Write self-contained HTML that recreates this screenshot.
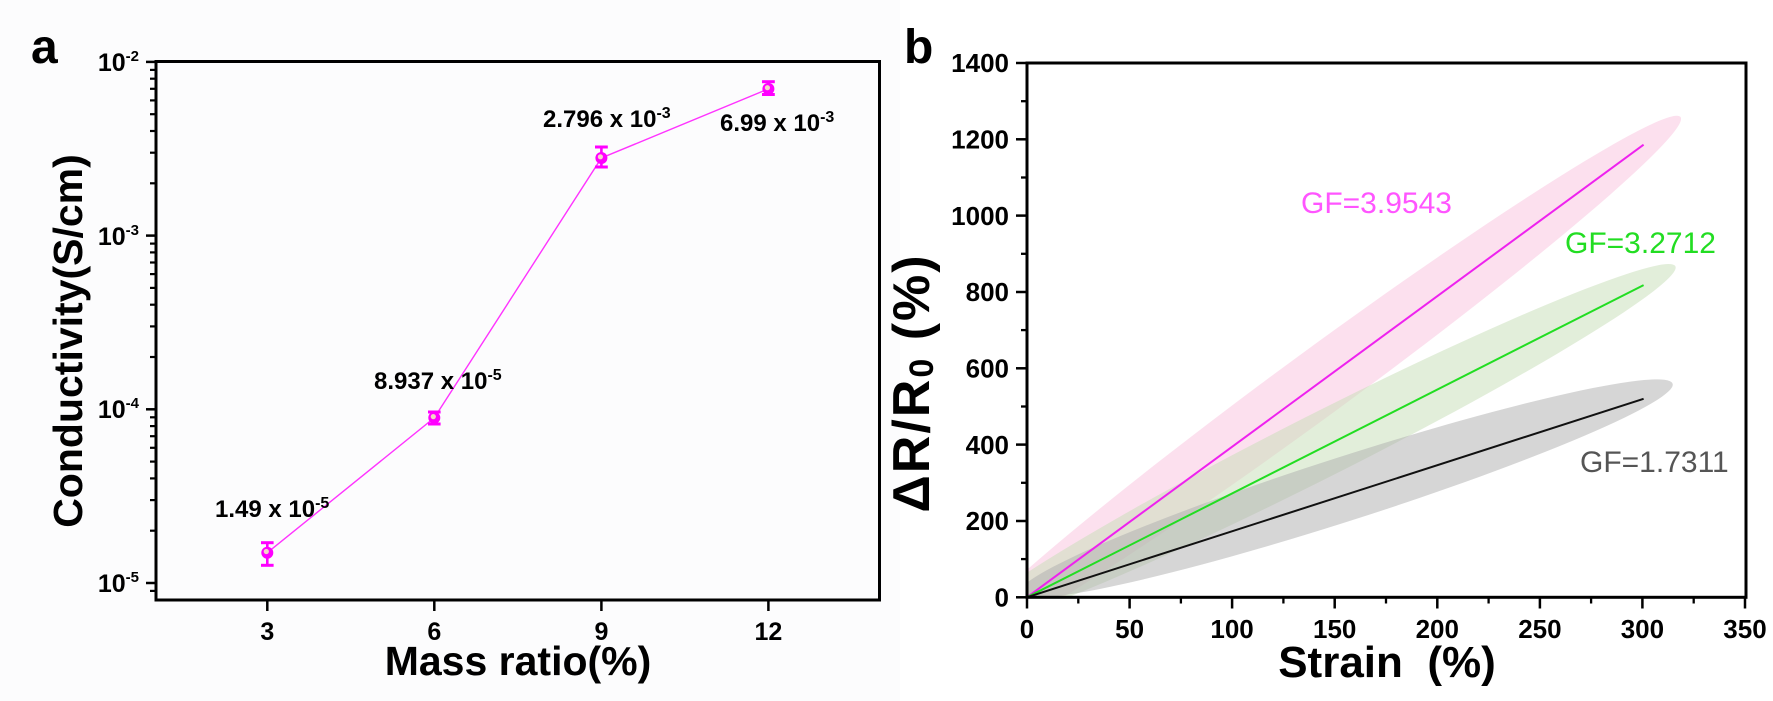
<!DOCTYPE html>
<html>
<head>
<meta charset="utf-8">
<style>
  html,body{margin:0;padding:0;background:#ffffff;width:1773px;height:701px;overflow:hidden;}
  svg{display:block;}
  text{font-family:"Liberation Sans", Arial, sans-serif;}
</style>
</head>
<body>
<svg width="1773" height="701" viewBox="0 0 1773 701" xmlns="http://www.w3.org/2000/svg">
  <rect x="0" y="0" width="1773" height="701" fill="#ffffff"/>
  <rect x="0" y="0" width="900" height="701" fill="#fcfcfd"/>

  <!-- ================= PANEL A ================= -->
  <text x="31" y="63" font-size="48" font-weight="bold" fill="#000">a</text>

  <!-- axes box -->
  <rect x="156" y="61.5" width="723.5" height="538.5" fill="none" stroke="#000" stroke-width="3"/>

  <!-- y major ticks -->
  <g stroke="#000" stroke-width="2.5">
    <line x1="146" y1="61.9" x2="156" y2="61.9"/>
    <line x1="146" y1="235.6" x2="156" y2="235.6"/>
    <line x1="146" y1="409.3" x2="156" y2="409.3"/>
    <line x1="146" y1="583" x2="156" y2="583"/>
  </g>
  <!-- y minor ticks -->
  <g stroke="#000" stroke-width="2.2">
    <line x1="150" y1="590.9" x2="156" y2="590.9"/>
    <line x1="150" y1="530.7" x2="156" y2="530.7"/>
    <line x1="150" y1="500.1" x2="156" y2="500.1"/>
    <line x1="150" y1="478.4" x2="156" y2="478.4"/>
    <line x1="150" y1="461.6" x2="156" y2="461.6"/>
    <line x1="150" y1="447.8" x2="156" y2="447.8"/>
    <line x1="150" y1="436.2" x2="156" y2="436.2"/>
    <line x1="150" y1="426.1" x2="156" y2="426.1"/>
    <line x1="150" y1="417.3" x2="156" y2="417.3"/>
    <line x1="150" y1="357.0" x2="156" y2="357.0"/>
    <line x1="150" y1="326.4" x2="156" y2="326.4"/>
    <line x1="150" y1="304.7" x2="156" y2="304.7"/>
    <line x1="150" y1="287.9" x2="156" y2="287.9"/>
    <line x1="150" y1="274.1" x2="156" y2="274.1"/>
    <line x1="150" y1="262.5" x2="156" y2="262.5"/>
    <line x1="150" y1="252.4" x2="156" y2="252.4"/>
    <line x1="150" y1="243.6" x2="156" y2="243.6"/>
    <line x1="150" y1="183.3" x2="156" y2="183.3"/>
    <line x1="150" y1="152.7" x2="156" y2="152.7"/>
    <line x1="150" y1="131.0" x2="156" y2="131.0"/>
    <line x1="150" y1="114.2" x2="156" y2="114.2"/>
    <line x1="150" y1="100.4" x2="156" y2="100.4"/>
    <line x1="150" y1="88.8" x2="156" y2="88.8"/>
    <line x1="150" y1="78.7" x2="156" y2="78.7"/>
    <line x1="150" y1="69.9" x2="156" y2="69.9"/>
  </g>
  <!-- y tick labels -->
  <g font-size="25" font-weight="bold" fill="#000" text-anchor="end">
    <text x="139" y="71">10<tspan font-size="15" dy="-10">-2</tspan></text>
    <text x="139" y="245">10<tspan font-size="15" dy="-10">-3</tspan></text>
    <text x="139" y="418">10<tspan font-size="15" dy="-10">-4</tspan></text>
    <text x="139" y="592">10<tspan font-size="15" dy="-10">-5</tspan></text>
  </g>

  <!-- x ticks -->
  <g stroke="#000" stroke-width="2.5">
    <line x1="267.3" y1="600" x2="267.3" y2="611"/>
    <line x1="434.3" y1="600" x2="434.3" y2="611"/>
    <line x1="601.4" y1="600" x2="601.4" y2="611"/>
    <line x1="768.4" y1="600" x2="768.4" y2="611"/>
  </g>
  <g font-size="25" font-weight="bold" fill="#000" text-anchor="middle">
    <text x="267.3" y="640">3</text>
    <text x="434.3" y="640">6</text>
    <text x="601.4" y="640">9</text>
    <text x="768.4" y="640">12</text>
  </g>

  <!-- axis titles -->
  <text x="518" y="675" font-size="41" font-weight="bold" fill="#000" text-anchor="middle">Mass ratio(%)</text>
  <text transform="translate(82,341) rotate(-90)" font-size="41" font-weight="bold" fill="#000" text-anchor="middle">Conductivity(S/cm)</text>

  <!-- data line -->
  <polyline points="267.3,552.7 434.3,417.8 601.4,158 768.4,88.9" fill="none" stroke="#ff33ff" stroke-width="1.4"/>

  <!-- error bars -->
  <g stroke="#ff00ff" stroke-width="2.6" fill="none">
    <line x1="267.3" y1="542.7" x2="267.3" y2="565.3"/>
    <line x1="261" y1="542.7" x2="273.6" y2="542.7" stroke-width="3"/>
    <line x1="261" y1="565.3" x2="273.6" y2="565.3" stroke-width="3"/>

    <line x1="434.3" y1="412" x2="434.3" y2="424"/>
    <line x1="428" y1="412" x2="440.6" y2="412" stroke-width="3"/>
    <line x1="428" y1="424" x2="440.6" y2="424" stroke-width="3"/>

    <line x1="601.4" y1="147" x2="601.4" y2="167"/>
    <line x1="595" y1="147" x2="607.8" y2="147" stroke-width="3"/>
    <line x1="595" y1="167" x2="607.8" y2="167" stroke-width="3"/>

    <line x1="768.4" y1="81.7" x2="768.4" y2="94.5"/>
    <line x1="762" y1="81.7" x2="774.8" y2="81.7" stroke-width="3"/>
    <line x1="762" y1="94.5" x2="774.8" y2="94.5" stroke-width="3"/>
  </g>
  <!-- markers -->
  <g>
    <circle cx="267.3" cy="552.7" r="6" fill="#ff00ff"/>
    <circle cx="266.3" cy="551.5" r="2.6" fill="#f3d6c8"/>
    <circle cx="434.3" cy="417.8" r="6" fill="#ff00ff"/>
    <circle cx="433.3" cy="416.6" r="2.6" fill="#f3d6c8"/>
    <circle cx="601.4" cy="158" r="6" fill="#ff00ff"/>
    <circle cx="600.4" cy="156.8" r="2.6" fill="#f3d6c8"/>
    <circle cx="768.4" cy="88.9" r="6" fill="#ff00ff"/>
    <circle cx="767.4" cy="87.7" r="2.6" fill="#f3d6c8"/>
  </g>

  <!-- annotations -->
  <g font-size="24" font-weight="bold" fill="#000">
    <text x="215" y="517">1.49 x 10<tspan font-size="16" dy="-9">-5</tspan></text>
    <text x="374" y="389">8.937 x 10<tspan font-size="16" dy="-9">-5</tspan></text>
    <text x="543" y="127">2.796 x 10<tspan font-size="16" dy="-9">-3</tspan></text>
    <text x="720" y="131">6.99 x 10<tspan font-size="16" dy="-9">-3</tspan></text>
  </g>

  <!-- ================= PANEL B ================= -->
  <text x="904" y="63" font-size="48" font-weight="bold" fill="#000">b</text>

  <defs>
    <clipPath id="plotb">
      <rect x="1027" y="63" width="719" height="534.3"/>
    </clipPath>
  </defs>

  <!-- shaded ellipses -->
  <g clip-path="url(#plotb)">
    <g transform="translate(1027,597.3) rotate(-36.24)">
      <ellipse cx="361" cy="-1" rx="450" ry="33" fill="rgb(249,193,221)" fill-opacity="0.5"/>
    </g>
    <g transform="translate(1027,597.3) rotate(-26.81)">
      <ellipse cx="331" cy="-3" rx="397" ry="32" fill="rgb(197,221,181)" fill-opacity="0.5"/>
    </g>
    <g transform="translate(1027,597.3) rotate(-17.8)">
      <ellipse cx="337" cy="-6" rx="343" ry="32" fill="rgb(173,173,173)" fill-opacity="0.5"/>
    </g>
    <!-- fit lines -->
    <line x1="1027" y1="597.3" x2="1643.6" y2="144.7" stroke="#ee22ee" stroke-width="2"/>
    <line x1="1027" y1="597.3" x2="1643.6" y2="285.1" stroke="#22dd22" stroke-width="2"/>
    <line x1="1027" y1="597.3" x2="1643.6" y2="398.8" stroke="#111111" stroke-width="2"/>
  </g>

  <!-- axes box -->
  <rect x="1027" y="63" width="719" height="534.3" fill="none" stroke="#000" stroke-width="3"/>

  <!-- y ticks -->
  <g stroke="#000" stroke-width="2.5">
    <line x1="1016" y1="597.3" x2="1027" y2="597.3"/>
    <line x1="1016" y1="521.0" x2="1027" y2="521.0"/>
    <line x1="1016" y1="444.6" x2="1027" y2="444.6"/>
    <line x1="1016" y1="368.3" x2="1027" y2="368.3"/>
    <line x1="1016" y1="292.0" x2="1027" y2="292.0"/>
    <line x1="1016" y1="215.6" x2="1027" y2="215.6"/>
    <line x1="1016" y1="139.3" x2="1027" y2="139.3"/>
    <line x1="1016" y1="63" x2="1027" y2="63"/>
  </g>
  <g stroke="#000" stroke-width="2.3">
    <line x1="1021" y1="559.1" x2="1027" y2="559.1"/>
    <line x1="1021" y1="482.8" x2="1027" y2="482.8"/>
    <line x1="1021" y1="406.5" x2="1027" y2="406.5"/>
    <line x1="1021" y1="330.1" x2="1027" y2="330.1"/>
    <line x1="1021" y1="253.8" x2="1027" y2="253.8"/>
    <line x1="1021" y1="177.5" x2="1027" y2="177.5"/>
    <line x1="1021" y1="101.2" x2="1027" y2="101.2"/>
  </g>
  <g font-size="26" font-weight="bold" fill="#000" text-anchor="end">
    <text x="1009" y="606.5">0</text>
    <text x="1009" y="530.2">200</text>
    <text x="1009" y="453.8">400</text>
    <text x="1009" y="377.5">600</text>
    <text x="1009" y="301.2">800</text>
    <text x="1009" y="224.8">1000</text>
    <text x="1009" y="148.5">1200</text>
    <text x="1009" y="72.2">1400</text>
  </g>

  <!-- x ticks -->
  <g stroke="#000" stroke-width="2.5">
    <line x1="1027" y1="597.3" x2="1027" y2="608.5"/>
    <line x1="1129.6" y1="597.3" x2="1129.6" y2="608.5"/>
    <line x1="1232.1" y1="597.3" x2="1232.1" y2="608.5"/>
    <line x1="1334.7" y1="597.3" x2="1334.7" y2="608.5"/>
    <line x1="1437.3" y1="597.3" x2="1437.3" y2="608.5"/>
    <line x1="1539.9" y1="597.3" x2="1539.9" y2="608.5"/>
    <line x1="1642.4" y1="597.3" x2="1642.4" y2="608.5"/>
    <line x1="1745" y1="597.3" x2="1745" y2="608.5"/>
  </g>
  <g stroke="#000" stroke-width="2.3">
    <line x1="1078.3" y1="597.3" x2="1078.3" y2="603.5"/>
    <line x1="1180.9" y1="597.3" x2="1180.9" y2="603.5"/>
    <line x1="1283.4" y1="597.3" x2="1283.4" y2="603.5"/>
    <line x1="1386" y1="597.3" x2="1386" y2="603.5"/>
    <line x1="1488.6" y1="597.3" x2="1488.6" y2="603.5"/>
    <line x1="1591.1" y1="597.3" x2="1591.1" y2="603.5"/>
    <line x1="1693.7" y1="597.3" x2="1693.7" y2="603.5"/>
  </g>
  <g font-size="26" font-weight="bold" fill="#000" text-anchor="middle">
    <text x="1027" y="638">0</text>
    <text x="1129.6" y="638">50</text>
    <text x="1232.1" y="638">100</text>
    <text x="1334.7" y="638">150</text>
    <text x="1437.3" y="638">200</text>
    <text x="1539.9" y="638">250</text>
    <text x="1642.4" y="638">300</text>
    <text x="1745" y="638">350</text>
  </g>

  <!-- axis titles -->
  <text x="1387" y="677" font-size="44" font-weight="bold" fill="#000" text-anchor="middle" xml:space="preserve">Strain  (%)</text>
  <text transform="translate(929,383) rotate(-90)" font-size="52" font-weight="bold" fill="#000" text-anchor="middle" letter-spacing="2" xml:space="preserve">ΔR/R<tspan font-size="34" dy="4">0</tspan><tspan dy="-4"> (%)</tspan></text>

  <!-- GF labels -->
  <text x="1301" y="213" font-size="30" fill="#ff55ff">GF=3.9543</text>
  <text x="1565" y="253" font-size="30" fill="#22dd22">GF=3.2712</text>
  <text x="1580" y="472" font-size="30" fill="#555555">GF=1.7311</text>
</svg>
</body>
</html>
